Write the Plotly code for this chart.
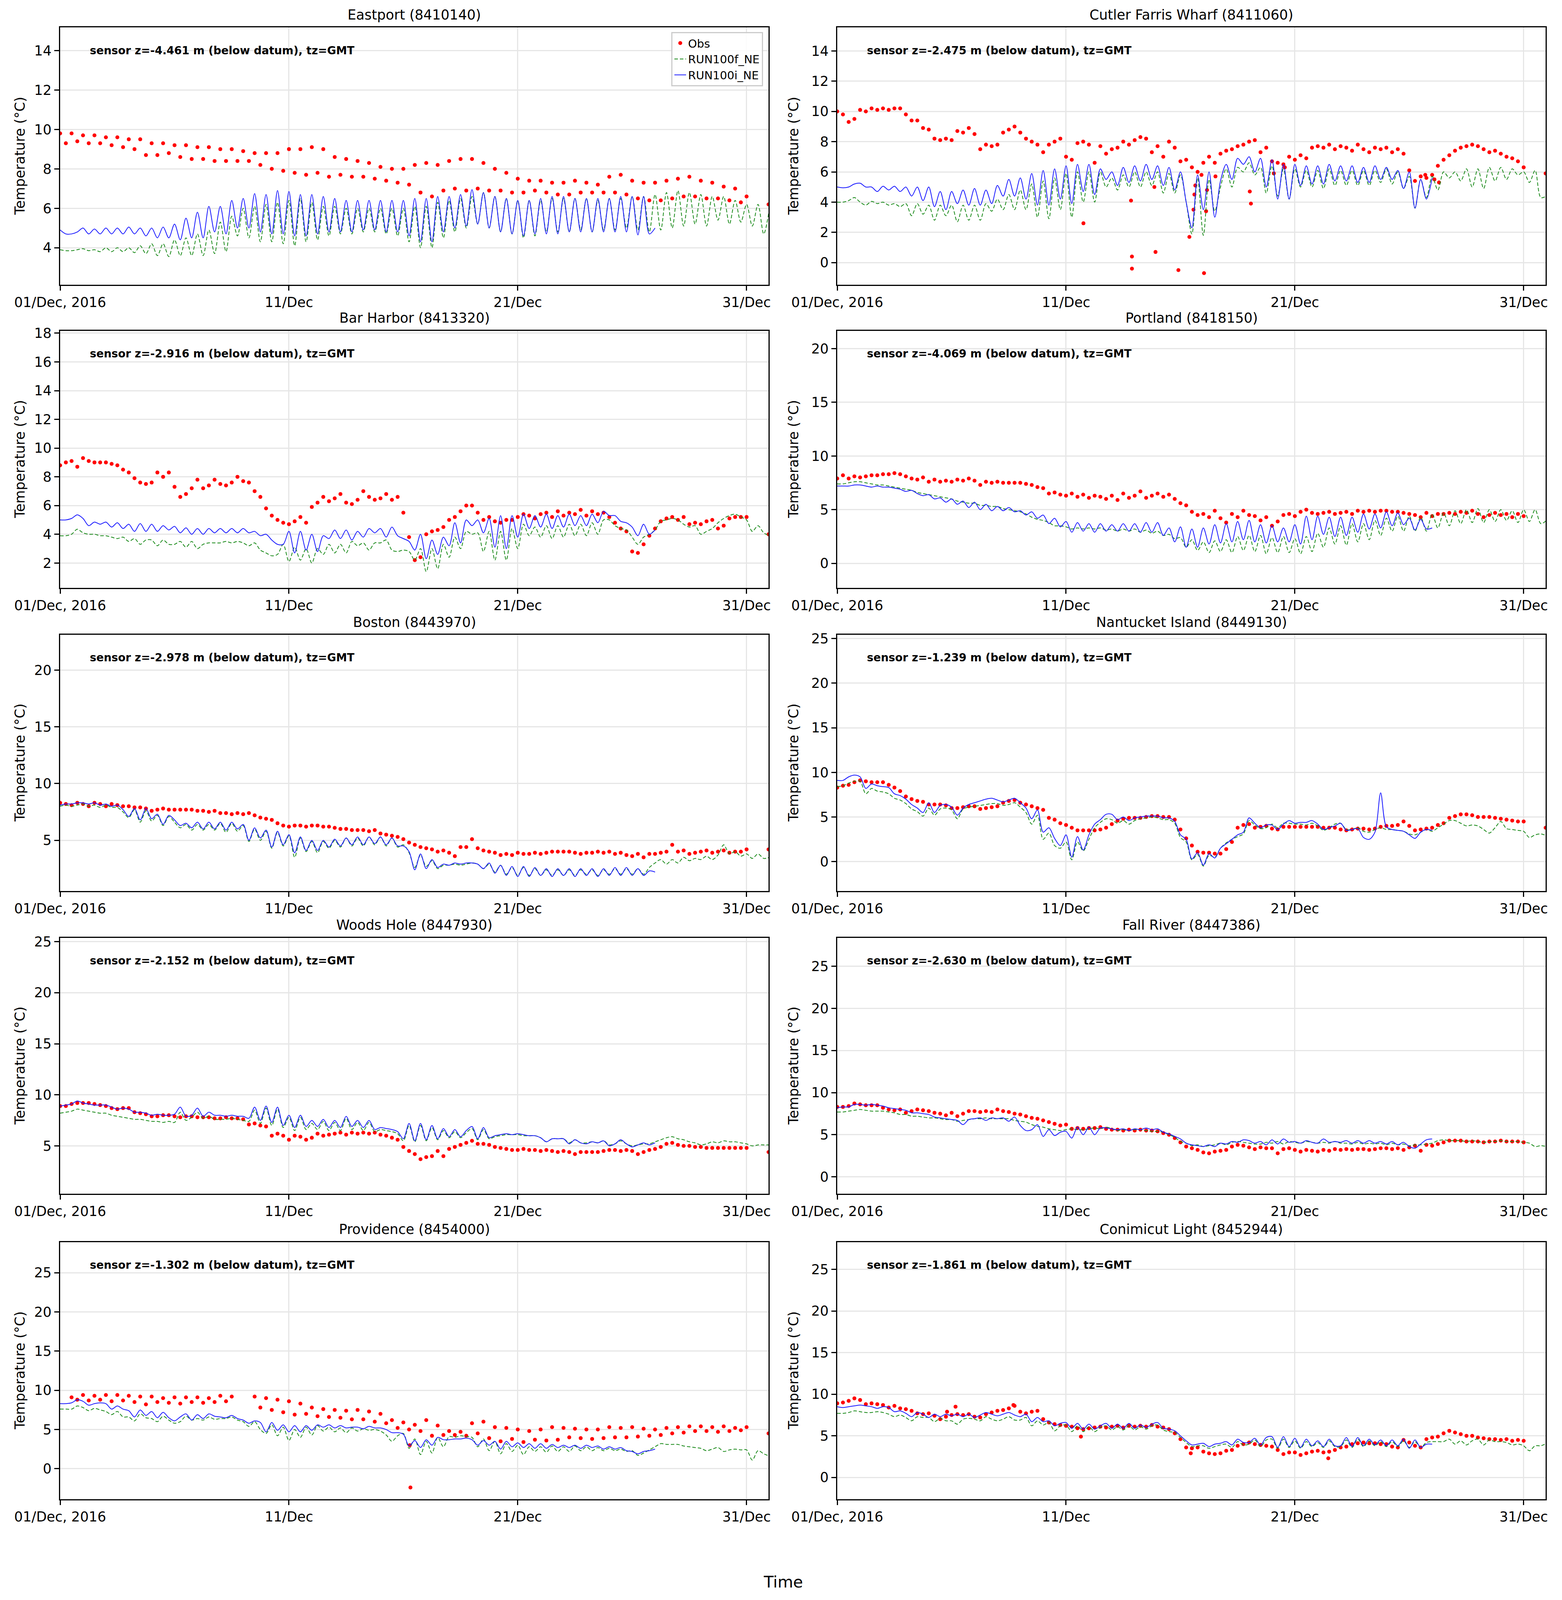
import numpy as np
import pandas as pd
import plotly.graph_objects as go

START = pd.Timestamp("2016-12-01 00:00")
STEP_H = 6
X_RANGE = ["2016-12-01 00:00", "2016-12-31 23:00"]

station_names = ["Eastport (8410140)", "Cutler Farris Wharf (8411060)", "Bar Harbor (8413320)",
                 "Portland (8418150)", "Boston (8443970)", "Nantucket Island (8449130)",
                 "Woods Hole (8447930)", "Fall River (8447386)", "Providence (8454000)",
                 "Conimicut Light (8452944)"]
sensor_depths = ["-4.461", "-2.475", "-2.916", "-4.069", "-2.978", "-1.239", "-2.152", "-2.630", "-1.302", "-1.861"]
tick_dates = ["2016-12-01", "2016-12-11", "2016-12-21", "2016-12-31"]
tick_labels = ["01/Dec, 2016", "11/Dec", "21/Dec", "31/Dec"]
series_names = ["Obs", "RUN100f_NE", "RUN100i_NE"]

# ---------------- Eastport ----------------
eastport_obs = [
9.8,9.3,9.8,9.4, 9.7,9.3,9.7,9.3, 9.6,9.2,9.6,9.1, 9.5,9.0,9.5,8.7, 9.3,8.7,9.3,8.8,
9.2,8.6,9.2,8.5, 9.1,8.5,9.1,8.4, 9.0,8.4,9.0,8.4, 8.9,8.4,8.8,8.2, 8.8,8.0,8.8,7.9,
9.0,7.8,9.0,7.7, 9.1,7.8,9.0,7.6, 8.6,7.7,8.5,7.6, 8.4,7.6,8.3,7.5, 8.1,7.4,8.0,7.3,
8.0,7.2,8.2,6.8, 8.3,6.6,8.2,6.9, 8.4,7.0,8.5,6.9, 8.5,7.0,8.3,6.9, 8.0,6.9,7.8,6.8,
7.5,6.8,7.4,6.9, 7.4,6.8,7.3,6.7, 7.3,6.7,7.4,6.8, 7.3,6.8,7.2,6.8, 7.6,6.8,7.7,6.7,
7.4,6.5,7.3,6.4, 7.3,6.4,7.4,6.5, 7.5,6.6,7.6,6.6, 7.4,6.5,7.3,6.5, 7.1,6.4,7.0,6.3,
6.6]
eastport_f = [
3.9,3.85,3.85,3.9, 3.95,3.85,3.9,3.8, 4.0,3.8,4.0,3.8, 4.0,3.75,4.1,3.7, 4.2,3.6,4.2,3.55,
4.4,3.6,4.5,3.6, 4.7,3.6,4.9,3.7, 5.3,3.8,5.6,4.6, 6.0,4.5,6.1,4.3, 6.2,4.3,6.3,4.2,
6.4,4.1,6.5,4.3, 6.3,4.4,6.1,4.6, 6.1,4.7,6.0,4.7, 6.0,4.8,6.0,4.8, 6.0,4.7,6.0,4.6,
6.0,4.3,6.1,4.0, 6.1,4.0,6.3,4.5, 6.4,4.8,6.5,5.0, 6.6,5.2,6.8,5.0, 6.6,4.8,6.5,4.7,
6.4,4.5,6.4,4.6, 6.4,4.8,6.5,4.8, 6.5,4.8,6.5,4.9, 6.5,4.8,6.4,4.9, 6.5,4.9,6.5,5.0,
6.6,4.9,6.6,4.8, 6.7,4.9,6.8,5.0, 6.9,5.1,6.8,5.2, 6.7,5.1,6.6,5.4, 6.6,5.2,6.4,5.3,
6.2,5.1,6.2,4.7, 6.0]
eastport_i = [
4.9,4.7,4.7,4.8, 5.0,4.7,4.95,4.7, 5.0,4.7,5.0,4.7, 5.05,4.7,5.0,4.6, 5.0,4.5,5.05,4.5,
5.2,4.4,5.5,4.5, 5.8,4.5,6.1,4.8, 6.1,4.7,6.4,5.0, 6.5,5.0,6.75,4.8, 6.7,4.7,6.9,4.7,
6.85,4.6,6.7,4.6, 6.7,4.7,6.6,4.8, 6.5,4.8,6.4,4.8, 6.4,4.9,6.4,4.9, 6.4,4.8,6.4,4.8,
6.4,4.6,6.5,4.3, 6.5,4.3,6.6,4.8, 6.6,5.0,6.7,5.1, 6.95,5.2,6.8,5.0, 6.6,4.8,6.5,4.7,
6.4,4.6,6.4,4.7, 6.5,4.7,6.6,4.7, 6.6,4.8,6.5,4.8, 6.5,4.8,6.5,4.8, 6.5,4.8,6.6,4.8,
6.6,4.65,6.6,4.7, 5.0]
eastport_extra_day = [30.96]
eastport_extra_val = [6.2]

# ---------------- Cutler Farris Wharf ----------------
cutler_obs = [
10.0,9.8,9.3,9.5, 10.1,10.0,10.2,10.1, 10.2,10.1,10.2,10.2, 9.8,9.4,9.4,8.9, 8.8,8.2,8.1,8.2,
8.1,8.7,8.6,8.9, 8.5,7.5,7.8,7.7, 7.8,8.6,8.8,9.0, 8.6,8.2,8.0,7.8, 7.3,7.8,8.0,8.2,
7.0,6.8,7.9,8.0, 7.8,6.6,7.7,7.2, 7.5,7.6,8.0,7.8, 8.1,8.3,8.2,7.3, 7.7,7.0,8.0,7.6,
6.7,6.8,6.3,6.0, 6.6,7.0,6.6,7.2, 7.4,7.5,7.7,7.8, 8.0,8.1,7.3,7.6, 6.7,6.6,6.5,7.0,
6.8,7.1,6.9,7.6, 7.7,7.6,7.8,7.5, 7.7,7.6,7.4,7.8, 7.5,7.3,7.6,7.5, 7.6,7.3,7.5,7.2,
6.1,5.4,5.7,5.6, 5.8,6.4,6.8,7.1, 7.4,7.6,7.7,7.8, 7.7,7.5,7.3,7.4, 7.2,7.0,6.9,6.7,
6.3]
cutler_f = [
4.0,4.0,4.1,4.3, 4.0,3.8,4.05,3.9, 4.0,3.8,3.9,3.7, 3.9,3.1,3.9,3.2, 3.8,2.8,3.8,3.1,
3.8,2.7,3.8,2.8, 3.8,2.8,3.9,3.4, 4.2,3.5,4.5,3.5, 4.8,3.5,5.2,3.0, 5.4,2.9,5.6,3.5,
5.9,3.0,6.0,4.0, 6.0,4.0,6.0,5.0, 5.6,4.8,5.8,5.0, 6.0,5.0,6.0,5.1, 6.0,4.6,5.9,4.6,
5.8,4.0,1.9,5.6, 1.8,5.5,3.4,5.0, 6.2,5.0,6.3,6.0, 6.6,5.8,6.3,4.6, 6.4,4.4,6.2,4.2,
6.2,5.0,6.1,5.0, 6.1,4.9,6.2,5.1, 6.1,5.1,6.1,5.1, 6.1,5.1,6.1,5.3, 6.2,5.2,6.0,4.9,
5.7,3.6,5.5,4.3, 5.7,4.8,6.0,5.6, 6.0,5.4,6.2,5.0, 6.2,4.9,6.3,5.4, 6.3,5.5,6.2,5.8,
6.0,5.3,6.1,4.3, 4.4]
cutler_i = [
5.0,4.95,5.0,5.2, 5.25,5.0,5.0,4.7, 5.05,4.8,5.05,4.7, 5.0,4.4,5.0,4.1, 5.0,3.7,4.7,3.5,
4.7,3.9,4.8,3.8, 4.9,3.8,4.8,3.9, 5.1,4.4,5.5,4.4, 5.6,4.2,5.9,3.8, 6.1,3.8,6.2,4.2,
6.4,3.9,6.5,4.7, 6.5,4.5,6.2,5.5, 6.0,5.1,6.3,5.3, 6.4,5.4,6.5,5.5, 6.4,5.1,6.3,4.8,
6.0,4.0,2.3,5.8, 3.5,6.0,3.0,5.4, 6.5,5.5,6.9,6.5, 7.0,6.0,6.9,5.0, 6.8,4.2,6.5,4.2,
6.5,5.1,6.4,5.2, 6.4,5.2,6.5,5.4, 6.4,5.4,6.4,5.3, 6.3,5.3,6.4,5.5, 6.3,5.5,6.1,4.9,
6.0,3.6,5.5,4.2, 5.6]
cutler_extra_day = [10.76,12.84,12.88,12.88,13.86,13.91,14.91,15.39,15.57,15.61,15.65,15.92,16.03,
                    16.12,16.16,16.53,18.03,18.08,19.08,19.56,25.7,26.1,26.3,30.96]
cutler_extra_val = [2.6,4.1,0.4,-0.4,5.0,0.7,-0.5,1.7,3.5,4.5,5.1,5.8,-0.7,
                    3.4,4.8,5.7,4.7,3.9,5.9,6.3,5.8,5.5,5.3,5.9]

# ---------------- Bar Harbor ----------------
barharbor_obs = [
8.8,9.0,9.1,8.7, 9.3,9.1,9.0,9.0, 9.0,8.9,8.8,8.5, 8.3,7.9,7.6,7.5, 7.6,8.3,8.0,8.3,
7.3,6.6,6.8,7.2, 7.8,7.2,7.4,7.8, 7.5,7.4,7.6,8.0, 7.7,7.6,7.0,6.6, 5.8,5.3,5.0,4.8,
4.7,4.9,5.2,4.8, 5.9,6.2,6.6,6.3, 6.5,6.8,6.2,6.1, 6.4,7.0,6.6,6.4, 6.5,6.8,6.4,6.6,
5.5,3.8,2.2,2.4, 4.0,4.2,4.3,4.5, 5.0,5.2,5.6,6.0, 6.0,5.5,5.0,5.2, 4.9,4.8,5.0,5.0,
5.2,5.4,5.3,5.1, 5.4,5.5,5.2,5.6, 5.3,5.5,5.4,5.7, 5.3,5.6,5.4,5.5, 5.2,4.8,4.4,4.2,
2.8,2.7,3.3,3.9, 4.4,4.9,5.1,5.2, 5.0,5.2,4.7,4.8, 4.7,4.9,5.0,4.4, 4.6,5.1,5.2,5.2,
5.2]
barharbor_f = [
3.9,3.9,4.0,4.35, 4.1,4.0,4.0,3.9, 3.9,3.8,3.7,3.8, 3.5,3.7,3.3,3.6, 3.6,3.2,3.6,3.3,
3.3,3.5,3.1,3.5, 3.0,3.3,3.4,3.4, 3.4,3.5,3.4,3.5, 3.4,3.2,3.4,2.9, 2.7,2.5,2.6,3.3,
2.1,3.1,2.2,3.0, 2.0,3.0,2.6,3.3, 2.7,3.3,2.7,3.5, 3.2,3.4,2.9,3.4, 3.4,3.6,2.9,2.8,
2.9,2.8,2.2,3.0, 1.4,3.0,1.6,3.3, 2.4,3.8,3.0,4.2, 4.0,4.1,2.8,4.2, 2.2,4.2,2.2,4.4,
3.0,4.7,3.9,4.5, 3.8,4.6,3.7,4.6, 3.8,4.7,3.9,4.7, 3.9,4.8,4.0,5.0, 5.0,4.6,4.4,4.3,
3.8,3.3,3.8,4.0, 4.3,4.9,5.0,5.1, 5.0,4.7,4.5,4.6, 4.0,4.2,4.4,4.8, 5.1,5.3,5.4,5.2,
5.0,4.2,4.6,4.1, 3.9]
barharbor_i = [
5.0,5.0,5.1,5.35, 5.1,4.6,4.85,4.7, 4.85,4.5,4.8,4.4, 4.7,4.2,4.75,4.2, 4.7,4.2,4.6,4.3,
4.55,4.1,4.45,4.0, 4.4,4.0,4.4,4.1, 4.4,4.1,4.4,4.1, 4.4,4.1,4.2,3.9, 4.0,3.6,3.3,3.3,
4.2,2.7,4.2,2.9, 4.0,2.8,3.9,3.7, 4.3,3.7,4.3,3.6, 4.2,3.8,4.4,4.1, 4.4,3.8,4.5,3.9,
3.7,3.5,2.9,4.0, 2.3,3.6,2.6,3.8, 3.2,4.8,3.4,5.0, 4.6,5.0,4.1,5.1, 3.1,5.3,3.0,5.3,
3.8,5.4,4.4,5.3, 4.5,5.4,4.4,5.3, 4.5,5.4,4.6,5.3, 4.6,5.4,4.8,5.6, 5.3,5.3,4.9,4.8,
4.5,3.9,4.7,4.0, 4.3]
barharbor_extra_day = [30.96]
barharbor_extra_val = [4.0]

# ---------------- Portland ----------------
portland_obs = [
7.9,8.2,7.9,8.1, 8.0,8.1,8.2,8.2, 8.3,8.3,8.4,8.3, 8.1,7.9,7.8,8.0, 7.6,7.8,7.6,7.7,
7.6,7.8,7.7,7.9, 7.7,7.3,7.6,7.5, 7.6,7.5,7.5,7.5, 7.5,7.4,7.3,7.1, 7.0,6.5,6.6,6.4,
6.3,6.5,6.2,6.4, 6.1,6.3,6.2,6.0, 6.3,5.9,6.5,6.1, 6.3,6.7,6.1,6.3, 6.5,6.2,6.4,6.0,
5.6,5.4,4.8,4.5, 4.6,4.3,4.9,4.2, 3.8,4.6,4.3,4.9, 4.5,4.4,4.0,4.3, 3.5,3.9,4.5,4.6,
4.4,4.8,5.0,4.7, 4.6,4.7,4.8,4.6, 4.7,4.8,4.6,4.9, 4.8,4.9,4.8,4.9, 4.9,4.8,4.8,4.7,
4.6,4.5,4.3,4.7, 4.4,4.6,4.6,4.7, 4.6,4.8,4.7,4.9, 4.6,4.3,4.5,4.7, 4.5,4.6,4.3,4.6,
4.4]
portland_f = [
7.4,7.4,7.5,7.6, 7.6,7.5,7.4,7.3, 7.3,7.2,7.1,7.0, 6.9,6.8,6.6,6.5, 6.4,6.3,6.2,6.1,
6.0,5.8,5.7,5.6, 5.6,5.4,5.4,5.3, 5.3,5.1,5.0,4.9, 4.8,4.6,4.3,4.1, 4.0,3.8,3.5,3.5,
3.4,3.2,3.3,3.2, 3.3,3.2,3.3,3.1, 3.2,3.0,3.2,3.0, 3.2,2.9,3.1,2.8, 3.0,2.6,2.7,2.3,
2.4,1.5,2.2,1.2, 2.0,1.0,2.1,1.1, 2.2,1.0,2.5,1.2, 2.6,1.1,2.6,0.9, 2.4,1.0,2.5,1.0,
2.3,0.9,2.5,1.1, 2.8,1.5,3.3,1.8, 3.5,1.7,3.7,2.0, 3.7,2.2,4.0,2.6, 4.2,3.0,4.4,3.0,
4.4,3.0,4.3,3.0, 4.6,3.3,4.7,3.5, 4.9,3.7,5.0,3.8, 5.1,3.8,5.0,3.9, 5.0,4.0,4.9,3.8,
5.0,3.9,5.0,3.7, 4.0]
portland_i = [
7.2,7.2,7.2,7.3, 7.3,7.2,7.1,7.2, 7.1,7.1,7.0,6.9, 6.7,6.8,6.5,6.3, 6.4,6.0,6.1,5.7,
6.0,5.5,5.8,5.2, 5.7,5.0,5.5,4.9, 5.3,4.9,5.2,4.8, 4.9,4.5,4.8,4.2, 4.5,3.7,4.2,3.4,
3.9,2.9,3.8,3.0, 3.7,2.9,3.7,3.0, 3.6,3.0,3.7,3.0, 3.7,2.9,3.8,2.9, 3.8,2.6,3.3,2.0,
3.4,1.5,3.2,1.5, 3.3,1.8,3.6,1.9, 3.7,2.0,3.9,2.2, 4.0,2.0,3.6,1.9, 3.5,2.0,3.3,2.0,
3.6,1.8,4.4,2.2, 4.4,2.7,4.3,2.5, 4.3,2.6,4.3,2.9, 4.6,3.2,4.6,3.3, 4.8,3.5,4.7,3.6,
4.2,3.1,4.1,3.2, 3.3]
portland_extra_day = []
portland_extra_val = []

# ---------------- Boston ----------------
boston_obs = [
8.3,8.2,8.1,8.3, 8.2,8.0,8.3,8.2, 8.0,8.2,8.1,8.0, 8.0,7.9,7.9,7.8, 7.6,7.7,7.8,7.7,
7.7,7.7,7.7,7.7, 7.6,7.6,7.5,7.6, 7.4,7.4,7.3,7.4, 7.3,7.4,7.2,7.0, 6.9,6.8,6.5,6.3,
6.2,6.3,6.3,6.2, 6.3,6.3,6.2,6.2, 6.1,6.0,6.0,5.9, 5.9,5.9,5.8,5.9, 5.6,5.5,5.4,5.3,
5.1,4.8,4.6,4.4, 4.3,4.2,4.0,4.1, 3.9,3.6,4.4,4.4, 5.1,4.3,4.1,4.0, 3.9,3.7,3.8,3.7,
3.9,3.8,3.8,3.9, 3.8,3.9,4.0,4.0, 4.0,4.0,3.9,3.8, 3.9,3.9,4.0,3.9, 4.0,3.8,3.9,3.7,
3.6,3.8,3.5,3.8, 3.8,3.9,4.0,4.6, 4.0,4.1,3.8,3.9, 4.0,4.1,3.9,4.0, 4.1,3.9,4.0,4.0,
4.2]
boston_f = [
8.0,8.1,8.0,8.1, 8.2,8.0,8.1,7.9, 8.1,7.9,7.9,7.5, 7.0,7.7,6.6,7.6, 6.7,7.2,6.3,7.1,
6.6,6.1,6.4,5.9, 6.4,5.9,6.4,5.9, 6.5,5.7,6.5,5.8, 6.3,4.9,6.0,5.0, 5.8,4.3,5.7,4.5,
5.4,3.5,5.2,4.0, 4.9,3.9,4.9,4.3, 5.0,4.4,5.2,4.5, 5.2,4.5,5.3,4.6, 5.3,4.5,5.2,4.4,
4.6,3.9,2.6,3.7, 2.7,3.2,2.5,2.8, 2.8,2.9,2.8,2.9, 3.0,2.9,2.5,2.9, 2.2,2.8,2.0,2.6,
1.9,2.6,1.9,2.5, 1.9,2.4,1.9,2.4, 1.9,2.4,1.9,2.4, 2.0,2.4,1.9,2.4, 2.0,2.5,2.0,2.5,
2.0,2.5,2.0,2.6, 3.0,3.3,2.9,3.3, 3.0,3.5,3.2,3.4, 3.3,3.6,3.3,3.7, 4.6,3.8,4.0,3.6,
3.8,3.4,3.8,3.4, 3.5]
boston_i = [
8.1,8.2,8.2,8.3, 8.3,8.2,8.3,8.1, 8.2,8.0,8.1,7.7, 7.1,7.8,6.8,7.8, 6.9,7.3,6.4,7.2,
6.8,6.3,6.5,6.1, 6.6,6.0,6.6,6.0, 6.6,5.9,6.6,6.0, 6.4,5.0,6.1,5.2, 5.9,4.4,5.8,4.6,
5.5,3.9,5.3,4.1, 5.0,4.1,5.0,4.4, 5.1,4.5,5.2,4.6, 5.3,4.6,5.3,4.7, 5.3,4.6,5.2,4.5,
4.5,4.0,2.4,3.8, 2.5,3.3,2.6,2.9, 2.8,3.0,2.9,3.0, 3.0,2.9,2.5,3.0, 2.1,2.8,1.9,2.7,
1.8,2.7,1.8,2.6, 1.9,2.5,1.8,2.5, 1.9,2.5,1.8,2.5, 1.9,2.5,1.8,2.5, 1.9,2.6,1.9,2.6,
1.9,2.5,1.9,2.3, 2.2]
boston_extra_day = [30.96]
boston_extra_val = [4.2]

# ---------------- Nantucket Island ----------------
nantucket_obs = [
8.3,8.5,8.6,8.9, 9.1,9.0,8.9,8.9, 8.9,8.6,8.3,7.9, 7.3,7.0,6.8,6.7, 6.4,6.4,6.4,6.3,
6.0,6.0,6.1,6.2, 6.2,5.9,6.0,6.1, 6.2,6.6,6.8,6.9, 6.6,6.4,6.2,6.0, 5.8,4.9,4.7,4.3,
4.1,3.8,3.5,3.5, 3.5,3.5,3.6,3.8, 4.2,4.6,4.8,4.9, 4.9,4.9,5.0,5.1, 5.1,5.0,5.0,4.7,
3.6,2.6,1.8,1.1, 1.0,1.0,0.9,0.9, 1.4,2.2,3.8,4.1, 4.2,3.8,3.9,4.0, 3.7,3.6,3.9,3.9,
3.9,3.9,3.9,3.9, 3.9,3.8,3.8,3.8, 3.6,3.5,3.6,3.7, 3.7,3.6,3.7,3.9, 4.0,4.0,4.1,4.5,
4.0,3.5,3.6,3.7, 3.8,4.1,4.3,4.9, 5.1,5.3,5.3,5.2, 5.0,5.0,5.0,4.9, 4.8,4.7,4.6,4.5,
4.5]
nantucket_f = [
8.4,8.5,8.8,9.0, 9.0,7.6,8.2,7.9, 7.8,7.6,7.1,6.9, 6.5,5.9,5.6,5.1, 6.0,5.2,5.9,6.0,
5.8,4.8,5.9,6.1, 6.2,6.3,6.4,6.5, 6.5,6.3,6.4,6.6, 6.1,5.5,4.2,5.2, 2.5,3.2,1.8,1.5,
2.2,0.2,2.2,1.2, 2.5,3.8,4.4,4.8, 4.7,4.3,4.6,4.2, 4.6,4.8,4.9,5.0, 4.9,4.7,4.7,4.3,
2.7,2.2,0.2,0.8, -0.5,0.7,0.5,1.5, 2.1,2.5,2.8,3.1, 4.6,4.1,3.7,3.8, 4.2,3.8,4.3,4.3,
4.2,4.2,4.1,4.3, 4.0,3.5,3.8,4.2, 4.3,3.6,3.6,3.8, 3.4,3.3,3.6,3.8, 3.6,3.6,3.5,3.4,
3.1,3.0,3.3,3.6, 3.4,3.8,4.2,4.6, 4.6,4.3,4.0,4.1, 4.0,3.6,3.2,3.8, 4.5,3.7,3.6,3.5,
3.4,2.7,3.0,3.1, 2.9]
nantucket_i = [
9.1,9.1,9.5,9.7, 9.5,8.2,8.7,8.5, 8.4,8.3,7.6,7.4, 7.0,6.4,6.0,5.5, 6.6,5.5,6.3,6.4,
6.1,5.2,6.0,6.4, 6.6,6.8,7.0,7.1, 6.9,6.7,6.9,7.1, 6.6,6.0,4.8,5.8, 3.3,3.8,2.6,1.8,
3.0,0.5,2.8,1.3, 3.0,4.2,4.7,5.3, 5.3,4.7,5.0,4.6, 4.9,5.0,5.1,5.1, 5.1,4.9,4.9,4.5,
3.0,2.5,0.3,1.0, -0.4,0.9,0.4,1.5, 2.0,2.5,3.0,3.3, 4.9,4.3,3.8,4.1, 4.1,3.6,4.2,4.6,
4.3,4.4,4.4,4.6, 4.2,3.6,3.8,4.0, 4.3,3.5,3.6,3.7, 2.7,2.5,3.3,7.7, 3.9,3.6,3.5,3.4,
3.0,2.6,3.3,3.6, 3.5]
nantucket_extra_day = [30.96]
nantucket_extra_val = [3.8]

# ---------------- Woods Hole ----------------
woodshole_obs = [
8.9,8.9,9.1,9.2, 9.2,9.2,9.1,9.0, 8.9,8.7,8.6,8.7, 8.7,8.3,8.2,8.1, 7.9,7.9,8.0,8.0,
7.9,7.8,7.9,7.9, 7.8,7.8,7.8,7.7, 7.7,7.8,7.7,7.7, 7.6,7.1,7.2,7.0, 6.9,6.0,6.2,6.0,
5.6,6.0,5.9,5.6, 5.8,6.2,6.0,6.1, 6.2,6.3,6.1,6.3, 6.2,6.3,6.2,6.3, 6.1,6.0,5.8,5.6,
4.9,4.5,4.2,3.7, 3.9,4.0,4.5,4.0, 4.7,4.9,5.1,5.3, 5.5,5.2,5.2,5.1, 4.9,4.8,4.7,4.6,
4.6,4.7,4.6,4.6, 4.5,4.6,4.5,4.4, 4.5,4.4,4.2,4.4, 4.4,4.4,4.4,4.5, 4.6,4.6,4.5,4.6,
4.5,4.2,4.4,4.6, 4.7,4.9,5.2,5.3, 5.1,5.0,5.0,4.9, 4.9,4.8,4.8,4.8, 4.8,4.8,4.8,4.8,
4.8]
woodshole_f = [
8.2,8.3,8.4,8.6, 8.5,8.4,8.3,8.2, 8.2,8.0,7.9,7.8, 7.7,7.6,7.6,7.5, 7.4,7.4,7.3,7.4,
7.3,8.3,7.5,7.8, 8.3,7.7,7.9,7.6, 7.6,7.6,7.7,7.6, 7.5,7.4,8.5,7.2, 8.7,7.0,8.6,6.8,
7.8,6.5,7.8,6.6, 7.2,6.6,7.4,6.5, 7.3,6.5,7.7,6.6, 7.3,6.5,7.3,6.4, 6.6,6.5,6.4,6.2,
5.5,7.0,5.4,7.0, 5.5,6.8,5.6,6.5, 5.8,6.4,5.8,6.3, 6.7,5.6,6.6,5.7, 5.9,6.0,6.1,6.1,
6.1,6.0,6.0,6.0, 5.8,5.4,5.7,5.7, 5.7,5.3,5.6,5.3, 5.3,5.4,5.3,5.5, 5.1,5.2,5.5,5.2,
5.0,5.1,5.2,5.2, 5.4,5.6,5.8,5.9, 5.7,5.6,5.4,5.3, 5.1,5.2,5.4,5.3, 5.5,5.4,5.4,5.3,
5.2,5.0,5.1,5.1, 5.1]
woodshole_i = [
8.9,9.0,9.1,9.4, 9.2,9.1,9.0,9.0, 9.0,8.8,8.6,8.7, 8.6,8.3,8.3,8.2, 8.0,8.1,8.0,8.0,
8.1,8.8,7.9,8.0, 8.7,7.9,8.3,8.0, 8.0,7.9,8.0,7.9, 7.9,7.7,8.8,7.5, 8.9,7.3,8.8,7.0,
8.0,6.8,8.0,6.9, 7.5,6.9,7.6,6.8, 7.5,6.8,7.9,6.9, 7.5,6.8,7.5,6.6, 6.8,6.7,6.6,6.4,
5.7,7.2,5.5,7.2, 5.6,7.0,5.7,6.7, 5.9,6.6,5.9,6.5, 6.9,5.7,6.8,5.8, 6.0,6.1,6.2,6.1,
6.2,6.1,6.0,6.0, 5.8,5.4,5.7,5.7, 5.7,5.2,5.6,5.3, 5.2,5.4,5.3,5.5, 5.0,5.2,5.6,5.2,
4.9,5.1,5.3,5.1, 5.3]
woodshole_extra_day = [30.96]
woodshole_extra_val = [4.4]

# ---------------- Fall River ----------------
fallriver_obs = [
8.3,8.3,8.4,8.7, 8.6,8.5,8.5,8.5, 8.2,8.0,7.9,8.0, 7.6,7.8,8.0,7.9, 7.8,7.6,7.5,7.3,
7.6,7.2,7.5,7.8, 7.8,7.7,7.8,7.7, 8.0,7.8,7.7,7.5, 7.4,7.2,7.0,6.9, 6.7,6.5,6.3,6.1,
6.2,5.7,5.8,5.7, 5.8,5.8,5.9,5.7, 5.6,5.6,5.5,5.6, 5.5,5.6,5.5,5.5, 5.4,5.2,5.0,4.6,
4.1,3.6,3.4,3.2, 2.9,2.8,3.0,3.1, 3.2,3.6,3.8,3.7, 3.5,3.3,3.5,3.4, 3.4,2.8,3.3,3.4,
3.2,3.0,3.2,3.1, 3.0,3.2,3.1,3.3, 3.2,3.3,3.2,3.3, 3.3,3.2,3.3,3.4, 3.4,3.3,3.4,3.2,
3.5,3.7,3.1,3.8, 3.7,3.9,4.1,4.3, 4.3,4.3,4.2,4.2, 4.2,4.1,4.2,4.2, 4.3,4.2,4.2,4.2,
4.1]
fallriver_f = [
7.7,7.7,7.8,7.9, 8.0,7.9,7.8,7.8, 7.8,7.7,7.6,7.4, 7.4,7.2,7.2,7.1, 7.0,7.0,6.9,6.8,
6.8,6.6,6.7,6.8, 6.9,6.9,7.0,6.9, 6.9,6.9,6.9,6.7, 6.6,6.5,6.2,6.0, 5.9,5.7,5.6,5.5,
5.6,5.7,5.6,5.6, 5.7,5.8,5.7,5.9, 5.7,5.5,5.6,5.5, 5.6,5.6,5.5,5.4, 5.4,5.3,5.0,4.7,
4.2,4.0,3.7,3.8, 3.6,3.7,3.8,4.0, 3.8,4.1,4.2,4.1, 4.0,3.9,3.9,4.1, 4.0,4.2,3.9,4.2,
4.1,4.0,4.2,4.1, 4.0,4.1,4.0,4.2, 4.0,4.0,3.9,4.1, 3.9,4.0,3.9,4.0, 3.8,4.0,3.8,3.9,
3.7,3.8,3.8,3.9, 4.0,4.3,4.4,4.3, 4.3,4.3,4.2,4.3, 4.2,4.1,4.2,4.2, 4.3,4.2,4.2,4.2,
4.1,4.0,3.6,3.7, 3.6]
fallriver_i = [
8.2,8.3,8.3,8.6, 8.6,8.5,8.6,8.5, 8.4,8.2,8.1,8.0, 7.9,7.6,7.6,7.5, 7.4,7.1,7.0,6.9,
6.8,6.7,6.2,6.8, 6.9,7.0,6.7,7.0, 6.9,7.0,6.6,7.1, 6.1,5.5,5.6,6.2, 4.8,5.6,4.9,5.3,
5.4,4.6,5.9,5.0, 5.9,5.0,5.8,5.8, 5.7,5.6,5.7,5.5, 5.7,5.6,5.8,5.6, 5.7,5.3,5.1,4.8,
4.5,4.0,3.8,3.7, 3.6,3.8,3.6,4.0, 3.9,4.2,4.1,4.4, 4.3,4.0,4.2,3.8, 4.4,3.9,4.5,4.1,
4.2,4.0,4.3,4.1, 4.0,4.5,4.1,4.2, 4.1,4.3,4.0,4.3, 4.0,4.3,4.0,4.2, 3.9,4.2,3.8,4.1,
3.6,3.4,3.9,4.4, 4.5]
fallriver_extra_day = []
fallriver_extra_val = []

# ---------------- Providence ----------------
providence_obs = [
None,None,9.1,8.8, 9.4,8.7,9.3,8.8, 9.4,8.6,9.4,8.7, 9.3,8.5,9.2,8.2, 9.2,8.5,9.0,8.4,
9.1,8.3,9.1,8.5, 9.1,8.4,9.0,8.5, 9.3,8.6,9.2,None, None,None,9.2,7.8, 9.0,7.5,8.8,7.2,
8.6,6.9,8.3,7.0, 7.8,6.7,7.6,6.6, 7.5,6.5,7.4,6.3, 7.5,6.3,7.3,6.0, 7.0,5.8,6.2,5.2,
5.9,5.0,5.6,4.8, 6.2,4.2,5.5,4.3, 4.8,4.3,4.7,4.2, 5.8,4.5,6.0,3.9, 5.3,3.5,5.2,3.8,
5.0,3.4,4.8,3.7, 5.0,3.6,5.3,3.7, 5.2,4.0,5.1,3.9, 5.0,3.8,5.0,3.9, 5.3,4.0,5.2,4.0,
5.3,4.1,5.1,4.2, 5.0,4.3,5.2,4.5, 5.3,4.6,5.4,4.8, 5.4,4.8,5.3,4.7, 5.4,4.8,5.2,4.9,
5.3]
providence_f = [
7.6,7.6,7.6,8.0, 7.8,7.4,7.7,7.5, 7.3,6.9,7.3,6.6, 6.6,6.1,7.0,6.5, 6.4,6.0,6.7,6.2,
5.8,6.0,6.7,6.2, 6.4,6.2,6.6,6.3, 6.4,6.4,6.6,6.2, 6.0,5.4,6.0,5.0, 4.5,5.6,4.2,5.3,
3.6,5.0,4.0,5.3, 4.3,5.5,4.8,5.3, 4.7,5.2,4.6,5.2, 4.8,5.1,4.9,5.0, 4.8,4.3,3.5,4.2,
4.5,2.6,3.8,1.8, 3.5,2.0,4.0,2.8, 4.1,4.0,4.2,4.1, 4.0,2.8,3.8,2.3, 3.5,1.9,3.2,2.2,
3.0,1.8,2.8,2.2, 2.8,2.1,2.9,2.2, 2.8,2.2,2.9,2.3, 2.8,2.3,2.7,2.3, 2.6,2.3,2.5,2.2,
2.3,1.7,2.0,2.4, 2.8,3.2,3.1,3.1, 3.1,2.9,2.8,2.7, 2.6,2.3,2.5,2.7, 2.2,2.4,2.5,2.4,
2.4,1.1,2.3,1.9, 1.6]
providence_i = [
8.3,8.3,8.4,8.8, 8.6,8.1,8.3,8.4, 8.3,7.6,8.0,7.6, 7.4,6.6,7.5,6.8, 7.3,6.5,7.2,6.5,
6.1,6.6,7.0,6.2, 6.9,6.4,7.0,6.7, 6.6,6.5,6.8,6.4, 6.2,5.8,6.1,5.9, 4.7,5.9,4.9,5.6,
4.7,5.5,4.7,5.5, 4.9,5.6,5.3,5.6, 5.2,5.5,5.2,5.3, 5.3,5.1,5.4,5.2, 5.2,5.0,4.6,4.6,
4.4,2.9,3.6,2.7, 3.7,3.0,4.0,3.7, 3.7,3.8,3.8,3.9, 3.7,3.0,3.6,3.0, 3.5,2.5,3.5,2.8,
3.3,2.7,3.2,2.6, 3.2,2.6,3.1,2.7, 3.0,2.7,3.0,2.6, 3.0,2.7,2.9,2.5, 2.8,2.5,2.7,2.3,
2.2,1.9,2.2,2.3, 2.5]
providence_extra_day = [15.28, 15.31, 30.96]
providence_extra_val = [3.0, -2.4, 4.5]

# ---------------- Conimicut Light ----------------
conimicut_obs = [
8.9,9.0,9.2,9.5, 9.3,8.8,8.9,8.8, 8.7,8.4,8.6,8.3, 8.2,8.0,7.7,7.6, 7.7,7.4,7.0,7.3,
7.5,7.6,7.5,7.6, 7.3,7.2,7.6,7.8, 8.0,8.1,8.3,8.6, 7.9,7.7,7.9,8.0, 7.0,6.6,6.4,6.3,
6.2,6.1,5.9,5.8, 5.9,6.0,6.1,6.0, 6.1,6.2,6.0,6.2, 6.1,6.2,6.1,6.3, 6.1,6.0,5.8,5.3,
4.6,3.6,3.5,3.6, 3.1,2.9,2.8,2.9, 3.2,3.3,3.8,4.0, 4.2,4.0,3.9,3.8, 3.7,3.3,2.8,3.0,
3.0,2.7,2.9,3.1, 3.2,3.0,3.1,3.3, 3.6,3.7,4.0,4.1, 4.2,4.1,4.1,4.0, 4.0,3.7,3.6,4.5,
4.2,3.8,3.6,4.6, 4.8,4.9,5.3,5.6, 5.4,5.2,5.0,5.0, 4.8,4.7,4.6,4.6, 4.5,4.6,4.4,4.5,
4.4]
conimicut_f = [
7.7,7.7,7.8,8.0, 7.9,7.8,7.8,7.9, 7.8,7.6,7.3,7.5, 7.2,6.8,7.3,7.2, 7.2,6.7,7.1,6.8,
6.8,6.4,7.0,7.1, 7.0,6.8,7.3,7.0, 6.8,7.0,7.3,6.9, 6.9,7.2,6.2,6.8, 6.3,6.6,5.6,6.2,
6.3,5.5,6.2,5.5, 6.1,5.5,6.0,6.2, 5.7,6.1,5.7,6.2, 5.7,6.1,5.8,6.2, 6.3,5.7,5.5,5.4,
4.8,4.2,3.7,3.8, 3.8,3.5,3.7,3.9, 4.0,3.6,4.3,3.9, 4.0,4.5,3.7,4.5, 4.6,3.5,4.6,3.6,
4.4,3.5,4.3,3.7, 4.2,3.6,4.4,3.7, 3.7,4.5,3.6,4.6, 3.7,4.4,3.8,4.3, 3.7,4.3,3.7,4.4,
3.6,4.3,3.6,4.2, 4.3,4.3,4.3,4.6, 4.0,4.4,3.9,4.4, 4.6,3.9,4.5,4.3, 4.3,4.2,3.9,4.0,
3.8,3.2,3.8,3.8, 4.1]
conimicut_i = [
8.5,8.4,8.5,8.6, 8.7,8.6,8.5,8.3, 8.5,8.4,7.9,8.0, 7.7,7.3,7.8,7.6, 7.2,7.6,7.3,7.6,
7.4,7.6,7.3,7.6, 7.2,7.5,7.8,7.6, 7.4,7.6,7.8,7.5, 7.3,7.6,6.7,7.2, 6.7,6.8,6.2,6.5,
6.6,5.9,6.5,5.8, 6.4,5.8,6.2,6.5, 5.9,6.4,5.9,6.5, 5.9,6.3,6.0,6.4, 6.6,5.9,5.8,5.6,
5.0,4.4,3.9,4.0, 4.1,3.7,4.0,4.1, 4.3,3.9,4.6,4.2, 4.2,4.7,3.9,4.8, 4.9,3.6,4.9,3.7,
4.7,3.6,4.6,3.8, 4.4,3.7,4.6,3.8, 3.8,4.8,3.7,4.8, 3.8,4.6,3.9,4.5, 3.8,4.5,3.8,4.6,
3.5,4.5,3.6,4.0, 4.0]
conimicut_extra_day = [4.8, 5.17, 7.7, 10.65, 15.45, 21.46]
conimicut_extra_val = [7.9, 8.5, 8.7, 4.9, 2.9, 2.3]

obs_list = [eastport_obs, cutler_obs, barharbor_obs, portland_obs, boston_obs,
            nantucket_obs, woodshole_obs, fallriver_obs, providence_obs, conimicut_obs]
f_list = [eastport_f, cutler_f, barharbor_f, portland_f, boston_f,
          nantucket_f, woodshole_f, fallriver_f, providence_f, conimicut_f]
i_list = [eastport_i, cutler_i, barharbor_i, portland_i, boston_i,
          nantucket_i, woodshole_i, fallriver_i, providence_i, conimicut_i]
extra_day_list = [eastport_extra_day, cutler_extra_day, barharbor_extra_day, portland_extra_day,
                  boston_extra_day, nantucket_extra_day, woodshole_extra_day, fallriver_extra_day,
                  providence_extra_day, conimicut_extra_day]
extra_val_list = [eastport_extra_val, cutler_extra_val, barharbor_extra_val, portland_extra_val,
                  boston_extra_val, nantucket_extra_val, woodshole_extra_val, fallriver_extra_val,
                  providence_extra_val, conimicut_extra_val]

# ---------------- styling ----------------
Y_RANGES = [[2.12, 15.17], [-1.47, 15.55], [0.27, 18.16], [-2.28, 21.65], [0.54, 23.11],
            [-3.28, 25.41], [0.30, 25.36], [-2.02, 28.35], [-3.89, 28.89], [-2.62, 28.27]]
Y_DTICK = [2, 2, 2, 5, 5, 5, 5, 5, 5, 5]
X_DOM = [[0.0385, 0.492], [0.536, 0.9895]]
Y_DOM = [[0.822, 0.9828], [0.6326, 0.7932], [0.4432, 0.6032], [0.2538, 0.4138], [0.063, 0.2236]]
YTITLE_X = [0.01275, 0.508]
FONT = "DejaVu Sans"
FS = 35


def times(n):
    return START + pd.to_timedelta(np.arange(n) * STEP_H, unit="h")


def day_times(days):
    return START + pd.to_timedelta(np.array(days, dtype=float) * 24.0, unit="h")


fig = go.Figure()
annotations = []
for k in range(10):
    s = "" if k == 0 else str(k + 1)
    row, col = k // 2, k % 2
    xa, ya = "x" + s, "y" + s
    show = (k == 0)

    obs_x = list(times(len(obs_list[k]))) + list(day_times(extra_day_list[k]))
    obs_y = list(obs_list[k]) + list(extra_val_list[k])
    fig.add_trace(go.Scatter(x=obs_x, y=obs_y, mode="markers", name=series_names[0],
                             marker=dict(color="#ff0000", size=10, line=dict(width=0)),
                             xaxis=xa, yaxis=ya, showlegend=show))
    fig.add_trace(go.Scatter(x=times(len(f_list[k])), y=f_list[k], mode="lines", name=series_names[1],
                             line=dict(color="#1a8a1a", width=2, dash="9px,5px", shape="spline", smoothing=0.9),
                             xaxis=xa, yaxis=ya, showlegend=show))
    fig.add_trace(go.Scatter(x=times(len(i_list[k])), y=i_list[k], mode="lines", name=series_names[2],
                             line=dict(color="#1a1aff", width=2, shape="spline", smoothing=0.9),
                             xaxis=xa, yaxis=ya, showlegend=show))

    axis_common = dict(showline=True, linecolor="black", linewidth=3, mirror=True,
                       ticks="outside", ticklen=12, tickwidth=3, tickcolor="black",
                       tickfont=dict(family=FONT, size=FS, color="black"),
                       showgrid=True, gridcolor="#e6e6e6", gridwidth=3, zeroline=False,
                       automargin=False)
    fig.layout["xaxis" + s] = dict(axis_common, domain=X_DOM[col], anchor=ya, type="date",
                                   range=X_RANGE, tickmode="array", tickvals=tick_dates,
                                   ticktext=tick_labels)
    fig.layout["yaxis" + s] = dict(axis_common, domain=Y_DOM[row], anchor=xa, range=Y_RANGES[k],
                                   tick0=0, dtick=Y_DTICK[k])

    annotations.append(dict(text="Temperature (°C)", x=YTITLE_X[col], y=sum(Y_DOM[row]) / 2,
                            xref="paper", yref="paper", xanchor="center", yanchor="middle",
                            textangle=-90, showarrow=False,
                            font=dict(family=FONT, size=FS, color="black")))
    annotations.append(dict(text=station_names[k], x=sum(X_DOM[col]) / 2,
                            y=Y_DOM[row][1] + 0.0026, xref="paper", yref="paper",
                            xanchor="center", yanchor="bottom", showarrow=False,
                            font=dict(family=FONT, size=FS, color="black")))
    annotations.append(dict(text="<b>sensor z=%s m (below datum), tz=GMT</b>" % sensor_depths[k],
                            x=0.0408, y=0.911, xref=xa + " domain", yref=ya + " domain",
                            xanchor="left", yanchor="middle", showarrow=False,
                            font=dict(family=FONT, size=28, color="black")))

annotations.append(dict(text="Time", x=0.5015, y=0.0112, xref="paper", yref="paper",
                        xanchor="center", yanchor="middle", showarrow=False,
                        font=dict(family=FONT, size=41, color="black")))

fig.update_layout(
    autosize=True,
    margin=dict(l=0, r=0, t=0, b=0, pad=0, autoexpand=False),
    paper_bgcolor="white", plot_bgcolor="white",
    font=dict(family=FONT, size=FS, color="black"),
    annotations=annotations,
    showlegend=True,
    legend=dict(x=0.4885, y=0.98, xanchor="right", yanchor="top",
                bgcolor="rgba(255,255,255,0.85)", bordercolor="#cccccc", borderwidth=3,
                font=dict(family=FONT, size=29, color="black"), tracegroupgap=0),
)

fig.write_html("out.html", default_width="100vw", default_height="100vh",
               config={"displayModeBar": False},
               post_script="document.body.style.margin='0';document.body.style.overflow='hidden';"
                           "document.documentElement.style.overflow='hidden';"
                           "window.dispatchEvent(new Event('resize'));")
